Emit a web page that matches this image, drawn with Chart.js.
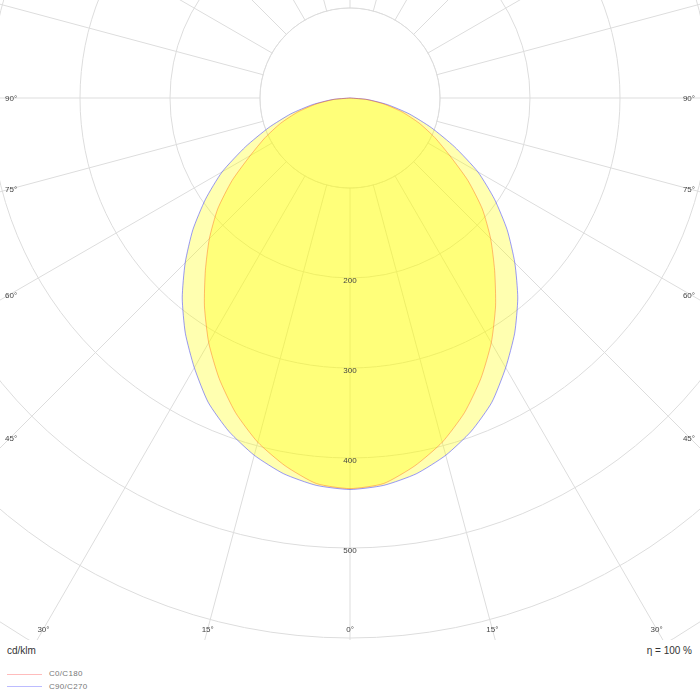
<!DOCTYPE html>
<html lang="en">
<head>
    <meta charset="UTF-8">
    <title>Polar light distribution</title>
    <script src="https://cdn.jsdelivr.net/npm/chart.js"></script>
    <style>
        body { margin: 0; background: #fff; width: 700px; height: 700px; position: relative; overflow: hidden; font-family: "Liberation Sans", Arial, sans-serif; }
        #plotBox { position: absolute; left: 0; top: 0; width: 700px; height: 640px; overflow: hidden; }
        #ldc { position: absolute; left: -370px; top: -622px; }
        .txt { position: absolute; white-space: nowrap; }
        #unit { left: 7px; top: 645px; font-size: 10px; color: #333; }
        #eta { right: 8px; top: 645px; font-size: 10px; color: #333; }
        .leg { position: absolute; left: 49px; font-size: 8px; color: #777; letter-spacing: 0.3px; }
        .legLine { position: absolute; left: 7px; width: 35px; height: 1px; }
    </style>
</head>
<body>
    <div id="plotBox">
        <canvas id="ldc" width="1440" height="1440"></canvas>
    </div>
    <div class="txt" id="unit">cd/klm</div>
    <div class="txt" id="eta">η = 100 %</div>
    <div class="legLine" style="top:674px;background:#ffbcbc"></div>
    <div class="leg" style="top:669px">C0/C180</div>
    <div class="legLine" style="top:686px;background:#bcbcff"></div>
    <div class="leg" style="top:682px">C90/C270</div>

    <script>
        // gamma angles (0 = straight down) and intensities in cd/klm
        const gamma = [0, 5, 10, 15, 20, 25, 30, 35, 40, 45, 50, 55, 60, 65, 70, 75, 80, 85, 90];
        const c0c180 = [434, 430, 415, 396, 372, 344, 314, 282, 250, 221, 192, 160, 128, 104, 82, 60, 38, 18, 0];
        const c90c270 = [435, 432, 424, 411, 394, 373, 346, 319, 290, 259, 228, 196, 164, 128, 96, 68, 42, 19, 0];
        const upperValue = 0; // nothing above 90°

        const radialTicks = [200, 300, 400, 500];
        const angleTicks = [0, 15, 30, 45, 60, 75, 90];
        const seriesNames = ['C0/C180', 'C90/C270'];

        // where the centre of the diagram sits on the page
        const PAGE_CX = 350, PAGE_CY = 98;

        const step = 5;
        const count = 360 / step;
        const labels = [];
        for (let i = 0; i < count; i++) labels.push(i * step);

        // radar index 0 is at the bottom, going clockwise: left half, top, right half
        function fullCircle(half) {
            return labels.map(function(deg) {
                if (deg <= 90) return half[gamma.indexOf(deg)];
                if (deg >= 270) return half[gamma.indexOf(360 - deg)];
                return upperValue;
            });
        }

        const innerWhite = {
            id: 'innerWhite',
            beforeDatasetsDraw(chart) {
                const s = chart.scales.r;
                const ctx = chart.ctx;
                const d = s.getDistanceFromCenterForValue(100);
                ctx.save();
                ctx.beginPath();
                ctx.arc(s.xCenter, s.yCenter, d - 0.5, 0, Math.PI * 2);
                ctx.fillStyle = '#ffffff';
                ctx.fill();
                ctx.beginPath();
                ctx.arc(s.xCenter, s.yCenter, d, 0, Math.PI * 2);
                ctx.strokeStyle = '#dddddd';
                ctx.lineWidth = 1;
                ctx.stroke();
                ctx.restore();
            }
        };

        const labelsPlugin = {
            id: 'ldcLabels',
            afterDraw(chart) {
                const s = chart.scales.r;
                const ctx = chart.ctx;
                const ox = s.xCenter - PAGE_CX, oy = s.yCenter - PAGE_CY;
                ctx.save();
                ctx.font = '8px "Liberation Sans", Arial, sans-serif';
                ctx.fillStyle = '#444';
                ctx.textBaseline = 'middle';

                // intensity values along the 0° line
                ctx.textAlign = 'center';
                radialTicks.forEach(function(v) {
                    const p = s.getPointPositionForValue(0, v);
                    ctx.fillText(String(v), p.x, p.y + 3);
                });

                // angle labels where the rays meet the frame
                const left = 10 + ox, right = 690 + ox, bottom = 629 + oy;
                angleTicks.forEach(function(g) {
                    const a = g / step, b = (count - g / step) % count;
                    const sides = a === b ? [a] : [a, b];
                    sides.forEach(function(idx) {
                        const p = s.getPointPosition(idx, 100);
                        const dx = (p.x - s.xCenter) / 100, dy = (p.y - s.yCenter) / 100;
                        const tB = dy > 0.0001 ? (bottom - s.yCenter) / dy : Infinity;
                        const tS = dx < -0.0001 ? (left - s.xCenter) / dx : (dx > 0.0001 ? (right - s.xCenter) / dx : Infinity);
                        const txt = g + '°';
                        if (tB <= tS) {
                            ctx.textAlign = 'center';
                            ctx.fillText(txt, s.xCenter + dx * tB, bottom + 1);
                        } else {
                            const y = s.yCenter + dy * tS + 1;
                            if (dx < 0) { ctx.textAlign = 'left'; ctx.fillText(txt, left - 5, y); }
                            else { ctx.textAlign = 'right'; ctx.fillText(txt, right + 5, y); }
                        }
                    });
                });
                ctx.restore();
            }
        };

        new Chart(document.getElementById('ldc'), {
            type: 'radar',
            data: {
                labels: labels,
                datasets: [{
                    label: seriesNames[0],
                    data: fullCircle(c0c180),
                    borderColor: 'rgba(255, 60, 0, 0.35)',
                    backgroundColor: 'rgba(255, 255, 0, 0.31)',
                    borderWidth: 1,
                    fill: true,
                    pointRadius: 0,
                    tension: 0.2
                }, {
                    label: seriesNames[1],
                    data: fullCircle(c90c270),
                    borderColor: 'rgba(70, 70, 255, 0.55)',
                    backgroundColor: 'rgba(255, 255, 0, 0.31)',
                    borderWidth: 1,
                    fill: true,
                    pointRadius: 0,
                    tension: 0.2
                }]
            },
            options: {
                responsive: false,
                animation: false,
                layout: { padding: 0 },
                plugins: {
                    legend: { display: false },
                    tooltip: { enabled: false }
                },
                scales: {
                    r: {
                        min: 0,
                        max: 800,
                        startAngle: 180,
                        ticks: { display: false, stepSize: 100 },
                        pointLabels: { display: false },
                        grid: { circular: true, color: '#dddddd', lineWidth: 1 },
                        angleLines: {
                            color: '#dddddd',
                            lineWidth: function(c) { return c.index % 3 === 0 ? 1 : 0; }
                        }
                    }
                }
            },
            plugins: [innerWhite, labelsPlugin]
        });
    </script>
</body>
</html>
